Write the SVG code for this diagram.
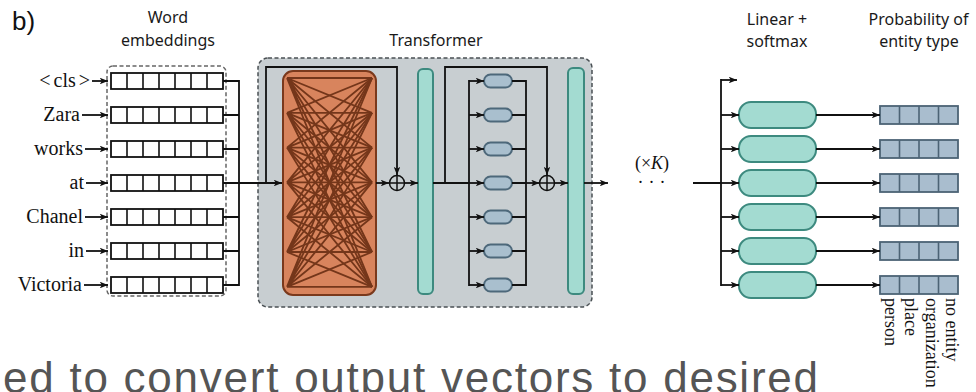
<svg xmlns="http://www.w3.org/2000/svg" width="976" height="392" viewBox="0 0 976 392">
<defs>
<style>
.serif{font-family:"Liberation Serif","DejaVu Serif",serif;fill:#111}
.sans{font-family:"Noto Sans","Liberation Sans",sans-serif;fill:#1a1a1a;font-size:16px;text-anchor:middle}
.ln{stroke:#111;stroke-width:1.8;fill:none}
.arr{stroke:#111;stroke-width:1.8;fill:none;marker-end:url(#ah)}
.cell{fill:#fff;stroke:#111;stroke-width:1.8}
.sep{stroke:#111;stroke-width:1.6}
.teal{fill:#a3dbd1;stroke:#3d8a7f;stroke-width:2}
.ffn{fill:#a9bfce;stroke:#4d687a;stroke-width:2}
.prob{fill:#a9bdce;stroke:#4c6375;stroke-width:1.8}
.psep{stroke:#4c6375;stroke-width:1.6}
.att{stroke:#74361a;stroke-width:1.8}
.lbl{font-size:20px;text-anchor:end}
.rot{font-size:18px}
</style>
<marker id="ah" viewBox="0 0 10 8" refX="10" refY="4" markerWidth="9" markerHeight="6.6" markerUnits="userSpaceOnUse" orient="auto">
<path d="M0,0 L10,4 L0,8 L2.5,4 z" fill="#111"/>
</marker>
</defs>
<rect width="976" height="392" fill="#fff"/>

<g id="title-b"><text x="12" y="29.5" font-family="Liberation Sans, Arial, sans-serif" font-size="26" fill="#111">b)</text></g>

<g id="titles">
<text class="sans" x="168" y="23">Word</text>
<text class="sans" x="168" y="46">embeddings</text>
<text class="sans" x="436" y="46">Transformer</text>
<text class="sans" x="777" y="25">Linear +</text>
<text class="sans" x="777" y="47">softmax</text>
<text class="sans" x="918.5" y="25">Probability of</text>
<text class="sans" x="919" y="47">entity type</text>
</g>

<g id="input-labels">
<text class="serif lbl" x="90" y="87">&lt;<tspan dx="3">cls</tspan><tspan dx="3">&gt;</tspan></text>
<text class="serif lbl" x="80" y="121">Zara</text>
<text class="serif lbl" x="83" y="155">works</text>
<text class="serif lbl" x="84" y="189">at</text>
<text class="serif lbl" x="83" y="223">Chanel</text>
<text class="serif lbl" x="84" y="257">in</text>
<text class="serif lbl" x="82" y="291">Victoria</text>
</g>

<g id="word-embeddings">
<rect x="107" y="66" width="119" height="230" rx="6" fill="#fff" stroke="#666" stroke-width="1.5" stroke-dasharray="4 2.5"/>
<g id="emb-rows">
<g transform="translate(0,81)"><rect class="cell" x="111" y="-8" width="112" height="16"/><path class="sep" d="M127,-8v16M143,-8v16M159,-8v16M175,-8v16M191,-8v16M207,-8v16"/></g>
<g transform="translate(0,115)"><rect class="cell" x="111" y="-8" width="112" height="16"/><path class="sep" d="M127,-8v16M143,-8v16M159,-8v16M175,-8v16M191,-8v16M207,-8v16"/></g>
<g transform="translate(0,149)"><rect class="cell" x="111" y="-8" width="112" height="16"/><path class="sep" d="M127,-8v16M143,-8v16M159,-8v16M175,-8v16M191,-8v16M207,-8v16"/></g>
<g transform="translate(0,183)"><rect class="cell" x="111" y="-8" width="112" height="16"/><path class="sep" d="M127,-8v16M143,-8v16M159,-8v16M175,-8v16M191,-8v16M207,-8v16"/></g>
<g transform="translate(0,217)"><rect class="cell" x="111" y="-8" width="112" height="16"/><path class="sep" d="M127,-8v16M143,-8v16M159,-8v16M175,-8v16M191,-8v16M207,-8v16"/></g>
<g transform="translate(0,251)"><rect class="cell" x="111" y="-8" width="112" height="16"/><path class="sep" d="M127,-8v16M143,-8v16M159,-8v16M175,-8v16M191,-8v16M207,-8v16"/></g>
<g transform="translate(0,285)"><rect class="cell" x="111" y="-8" width="112" height="16"/><path class="sep" d="M127,-8v16M143,-8v16M159,-8v16M175,-8v16M191,-8v16M207,-8v16"/></g>
</g>
</g>

<g id="transformer">
<rect x="258" y="58" width="334" height="249" rx="10" fill="#c8ced1" stroke="#4a5054" stroke-width="1.5" stroke-dasharray="4 2.5"/>
<g id="self-attention">
<rect x="283" y="71" width="93" height="224" rx="10" fill="#d8845d" stroke="#7a391c" stroke-width="2"/>
<g class="att">
<path d="M287,78L372,78M287,78L372,112.8M287,78L372,147.6M287,78L372,182.4M287,78L372,217.2M287,78L372,252M287,78L372,286.8"/>
<path d="M287,112.8L372,78M287,112.8L372,112.8M287,112.8L372,147.6M287,112.8L372,182.4M287,112.8L372,217.2M287,112.8L372,252M287,112.8L372,286.8"/>
<path d="M287,147.6L372,78M287,147.6L372,112.8M287,147.6L372,147.6M287,147.6L372,182.4M287,147.6L372,217.2M287,147.6L372,252M287,147.6L372,286.8"/>
<path d="M287,182.4L372,78M287,182.4L372,112.8M287,182.4L372,147.6M287,182.4L372,182.4M287,182.4L372,217.2M287,182.4L372,252M287,182.4L372,286.8"/>
<path d="M287,217.2L372,78M287,217.2L372,112.8M287,217.2L372,147.6M287,217.2L372,182.4M287,217.2L372,217.2M287,217.2L372,252M287,217.2L372,286.8"/>
<path d="M287,252L372,78M287,252L372,112.8M287,252L372,147.6M287,252L372,182.4M287,252L372,217.2M287,252L372,252M287,252L372,286.8"/>
<path d="M287,286.8L372,78M287,286.8L372,112.8M287,286.8L372,147.6M287,286.8L372,182.4M287,286.8L372,217.2M287,286.8L372,252M287,286.8L372,286.8"/>
</g>
</g>
<g id="add1"><circle cx="397" cy="183" r="7.5" fill="none" stroke="#111" stroke-width="1.5"/><path d="M389.5,183h15M397,175.5v15" stroke="#111" stroke-width="1.5"/></g>
<g id="norm1"><rect class="teal" x="418" y="69" width="15" height="225" rx="5"/></g>
<g id="ffn">
<rect class="ffn" x="484" y="74.5" width="28" height="13" rx="6.5"/>
<rect class="ffn" x="484" y="108.5" width="28" height="13" rx="6.5"/>
<rect class="ffn" x="484" y="142.5" width="28" height="13" rx="6.5"/>
<rect class="ffn" x="484" y="176.5" width="28" height="13" rx="6.5"/>
<rect class="ffn" x="484" y="210.5" width="28" height="13" rx="6.5"/>
<rect class="ffn" x="484" y="244.5" width="28" height="13" rx="6.5"/>
<rect class="ffn" x="484" y="278.5" width="28" height="13" rx="6.5"/>
</g>
<g id="add2"><circle cx="547" cy="183" r="7.5" fill="none" stroke="#111" stroke-width="1.5"/><path d="M539.5,183h15M547,175.5v15" stroke="#111" stroke-width="1.5"/></g>
<g id="norm2"><rect class="teal" x="568" y="68" width="16" height="226" rx="5"/></g>
</g>

<g id="repeat">
<text class="serif" x="652" y="169" font-size="18" text-anchor="middle">(×<tspan font-style="italic">K</tspan>)</text>
<text class="serif" x="654" y="188" font-size="18" text-anchor="middle" letter-spacing="5">···</text>
</g>

<g id="linear-softmax">
<rect class="teal" x="739" y="102" width="77" height="26" rx="12"/>
<rect class="teal" x="739" y="136" width="77" height="26" rx="12"/>
<rect class="teal" x="739" y="170" width="77" height="26" rx="12"/>
<rect class="teal" x="739" y="204" width="77" height="26" rx="12"/>
<rect class="teal" x="739" y="238" width="77" height="26" rx="12"/>
<rect class="teal" x="739" y="272" width="77" height="26" rx="12"/>
</g>

<g id="probabilities">
<g transform="translate(0,115)"><rect class="prob" x="880" y="-9" width="78" height="18"/><path class="psep" d="M899.5,-9v18M919,-9v18M938.5,-9v18"/></g>
<g transform="translate(0,149)"><rect class="prob" x="880" y="-9" width="78" height="18"/><path class="psep" d="M899.5,-9v18M919,-9v18M938.5,-9v18"/></g>
<g transform="translate(0,183)"><rect class="prob" x="880" y="-9" width="78" height="18"/><path class="psep" d="M899.5,-9v18M919,-9v18M938.5,-9v18"/></g>
<g transform="translate(0,217)"><rect class="prob" x="880" y="-9" width="78" height="18"/><path class="psep" d="M899.5,-9v18M919,-9v18M938.5,-9v18"/></g>
<g transform="translate(0,251)"><rect class="prob" x="880" y="-9" width="78" height="18"/><path class="psep" d="M899.5,-9v18M919,-9v18M938.5,-9v18"/></g>
<g transform="translate(0,285)"><rect class="prob" x="880" y="-9" width="78" height="18"/><path class="psep" d="M899.5,-9v18M919,-9v18M938.5,-9v18"/></g>
</g>

<g id="class-labels">
<text class="serif rot" transform="translate(885,298) rotate(90)">person</text>
<text class="serif rot" transform="translate(905,298) rotate(90)">place</text>
<text class="serif rot" transform="translate(925.5,298) rotate(90)">organization</text>
<text class="serif rot" transform="translate(945.5,298) rotate(90)">no entity</text>
</g>

<g id="connectors">
<line class="arr" x1="92" y1="81" x2="108" y2="81"/>
<line class="arr" x1="82" y1="115" x2="108" y2="115"/>
<line class="arr" x1="85" y1="149" x2="108" y2="149"/>
<line class="arr" x1="86" y1="183" x2="108" y2="183"/>
<line class="arr" x1="85" y1="217" x2="108" y2="217"/>
<line class="arr" x1="86" y1="251" x2="108" y2="251"/>
<line class="arr" x1="84" y1="285" x2="108" y2="285"/>
<path class="ln" d="M223,81H239M223,115H239M223,149H239M223,217H239M223,251H239M223,285H239M239,80.1V285.9"/>
<line class="arr" x1="223" y1="183" x2="282" y2="183"/>
<path class="arr" d="M266,183V67H397V175"/>
<line class="arr" x1="376" y1="183" x2="389" y2="183"/>
<line class="arr" x1="404.5" y1="183" x2="418" y2="183"/>
<path class="ln" d="M433,183H469"/>
<path class="arr" d="M445,183V67H547V175"/>
<path class="ln" d="M469,80.1V285.9"/>
<line class="arr" x1="469" y1="81" x2="484" y2="81"/>
<line class="arr" x1="469" y1="115" x2="484" y2="115"/>
<line class="arr" x1="469" y1="149" x2="484" y2="149"/>
<line class="arr" x1="469" y1="183" x2="484" y2="183"/>
<line class="arr" x1="469" y1="217" x2="484" y2="217"/>
<line class="arr" x1="469" y1="251" x2="484" y2="251"/>
<line class="arr" x1="469" y1="285" x2="484" y2="285"/>
<path class="ln" d="M512,81H526M512,115H526M512,149H526M512,183H526M512,217H526M512,251H526M512,285H526M526,80.1V285.9"/>
<line class="arr" x1="526" y1="183" x2="539.5" y2="183"/>
<line class="arr" x1="554.5" y1="183" x2="568" y2="183"/>
<line class="arr" x1="584" y1="183" x2="608" y2="183"/>
<path class="ln" d="M693,183H721M721,79.1V285.9"/>
<line class="arr" x1="721" y1="80" x2="737" y2="80"/>
<line class="arr" x1="721" y1="115" x2="739" y2="115"/>
<line class="arr" x1="721" y1="149" x2="739" y2="149"/>
<line class="arr" x1="721" y1="183" x2="739" y2="183"/>
<line class="arr" x1="721" y1="217" x2="739" y2="217"/>
<line class="arr" x1="721" y1="251" x2="739" y2="251"/>
<line class="arr" x1="721" y1="285" x2="739" y2="285"/>
<line class="arr" x1="816" y1="115" x2="880" y2="115"/>
<line class="arr" x1="816" y1="149" x2="880" y2="149"/>
<line class="arr" x1="816" y1="183" x2="880" y2="183"/>
<line class="arr" x1="816" y1="217" x2="880" y2="217"/>
<line class="arr" x1="816" y1="251" x2="880" y2="251"/>
<line class="arr" x1="816" y1="285" x2="880" y2="285"/>
</g>

<g id="caption-fragment">
<text x="3" y="393" font-family="Liberation Sans, Arial, sans-serif" font-size="44" fill="#555" textLength="815" lengthAdjust="spacing">ed to convert output vectors to desired</text>
</g>
</svg>
